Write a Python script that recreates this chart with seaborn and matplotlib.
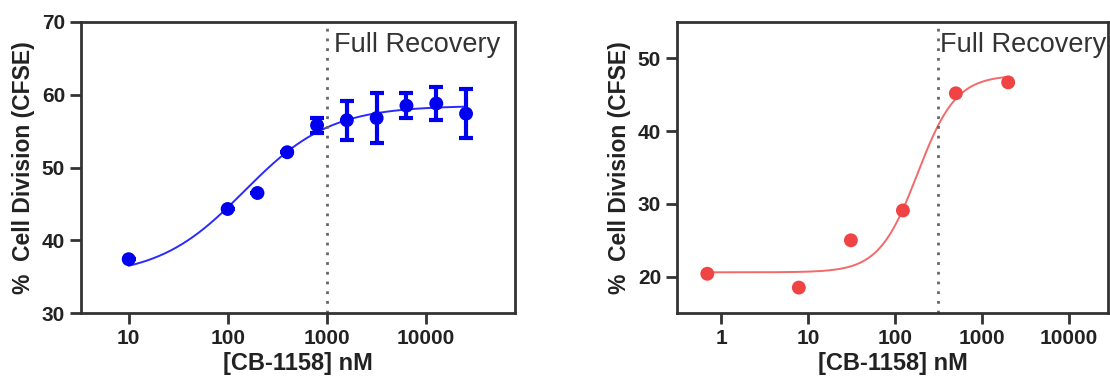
import numpy as np
import pandas as pd
import matplotlib
matplotlib.use("Agg")
import matplotlib.pyplot as plt
import seaborn as sns

sns.set_style("ticks")
plt.rcParams['font.family'] = ['Liberation Sans', 'DejaVu Sans']

# left panel: mean +/- error
conc_left = [10, 100, 200, 400, 800, 1600, 3200, 6400, 12800, 25600]
div_left = [37.4, 44.3, 46.5, 52.1, 55.8, 56.5, 56.8, 58.5, 58.8, 57.4]
err_left = [0, 0, 0, 0, 1.0, 2.7, 3.4, 1.7, 2.3, 3.4]
# 4PL fit (bottom, top, ec50, hill)
fit_left = [35.0, 58.5, 147.0, 1.0]

# right panel
conc_right = [0.69, 7.8, 31, 123, 500, 2000]
div_right = [20.4, 18.5, 25.0, 29.1, 45.2, 46.7]
fit_right = [20.6, 47.7, 181.0, 1.96]

recovery_left = 1000
recovery_right = 310


def four_pl(x, p):
    bottom, top, ec50, hill = p
    return bottom + (top - bottom) / (1 + (ec50 / x) ** hill)


def style_axis(ax, xlim, ylim, xticks, yticks):
    ax.set_xscale("log")
    ax.set_xlim(xlim)
    ax.set_ylim(ylim)
    ax.set_xticks(xticks)
    ax.set_xticklabels([str(t) for t in xticks])
    ax.minorticks_off()
    ax.set_yticks(yticks)
    for sp in ax.spines.values():
        sp.set_visible(True)
        sp.set_linewidth(2)
        sp.set_color("#333333")
    ax.tick_params(width=2, length=8, color="#333333", labelsize=15)
    for lab in ax.get_xticklabels() + ax.get_yticklabels():
        lab.set_fontweight("bold")
        lab.set_color("#222222")
    ax.set_xlabel("[CB-1158] nM", fontsize=17, fontweight="bold", color="#222222",
                  labelpad=3)
    ax.set_ylabel("%  Cell Division (CFSE)", fontsize=16.5, fontweight="bold",
                  color="#222222", labelpad=5)


fig = plt.figure(figsize=(11.1, 3.79), dpi=100)
ax1 = fig.add_axes([0.073, 0.174, 0.391, 0.768])
ax2 = fig.add_axes([0.610, 0.174, 0.388, 0.768])

# left
df_l = pd.DataFrame({"conc": conc_left, "div": div_left, "err": err_left})
xs = np.logspace(np.log10(conc_left[0]), np.log10(conc_left[-1]), 300)
sns.lineplot(x=xs, y=four_pl(xs, fit_left), ax=ax1, color="#2a2aff", lw=1.4)
ax1.errorbar(df_l["conc"], df_l["div"], yerr=df_l["err"], fmt="none",
             ecolor="#0000ee", elinewidth=3, capsize=5, capthick=3)
sns.scatterplot(data=df_l, x="conc", y="div", ax=ax1, color="#0000ee", s=100,
                edgecolor="none", zorder=5)
ax1.axvline(recovery_left, color="#666666", ls=(0, (1, 2.5)), lw=2)
ax1.text(recovery_left * 1.2, 66.8, "Full Recovery", fontsize=19.5, color="#333333",
         va="center", ha="left")
style_axis(ax1, (3.3, 80000), (30, 70), [10, 100, 1000, 10000], [30, 40, 50, 60, 70])

# right
df_r = pd.DataFrame({"conc": conc_right, "div": div_right})
xs = np.logspace(np.log10(conc_right[0]), np.log10(conc_right[-1]), 300)
sns.lineplot(x=xs, y=four_pl(xs, fit_right), ax=ax2, color="#f26a6a", lw=1.4)
sns.scatterplot(data=df_r, x="conc", y="div", ax=ax2, color="#f04444", s=100,
                edgecolor="none", zorder=5)
ax2.axvline(recovery_right, color="#666666", ls=(0, (1, 2.5)), lw=2)
ax2.text(recovery_right * 1.06, 51.8, "Full Recovery", fontsize=19.5, color="#333333",
         va="center", ha="left")
style_axis(ax2, (0.31, 28000), (15, 55), [1, 10, 100, 1000, 10000], [20, 30, 40, 50])

fig.savefig("out.png", dpi=100)
